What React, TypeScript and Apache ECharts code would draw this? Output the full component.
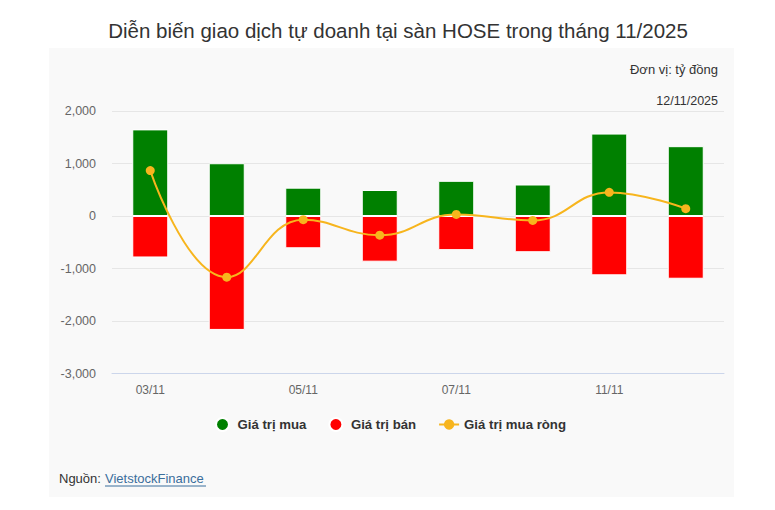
import React, { useEffect, useRef } from "react";
import * as echarts from "echarts";

const categories = ["03/11", "04/11", "05/11", "06/11", "07/11", "10/11", "11/11", "12/11"];
const buyValues = [1650, 1005, 540, 495, 670, 600, 1570, 1330];
const sellValues = [-790, -2170, -615, -870, -650, -690, -1130, -1195];
const netValues = [865, -1165, -70, -365, 30, -85, 450, 140];
const seriesNames = ["Giá trị mua", "Giá trị bán", "Giá trị mua ròng"];
const titleText = "Diễn biến giao dịch tự doanh tại sàn HOSE trong tháng 11/2025";
const unitText = "Đơn vị: tỷ đồng";
const dateText = "12/11/2025";
const sourceLabel = "Nguồn: ";
const sourceLink = "VietstockFinance";

const FONT = "Arial, 'Liberation Sans', Helvetica, sans-serif";

export default function App() {
  const ref = useRef<HTMLDivElement>(null);
  useEffect(() => {
    if (!ref.current) return;
    const chart = echarts.init(ref.current, undefined, { renderer: "svg" });
    chart.setOption({
      animation: false,
      textStyle: { fontFamily: FONT },
      graphic: [
        {
          type: "rect",
          z: -10,
          silent: true,
          shape: { x: 49, y: 48, width: 685, height: 449 },
          style: { fill: "#f9f9f9" },
        },
        {
          type: "text",
          x: 398,
          y: 30,
          style: {
            text: titleText,
            fill: "#333333",
            font: `20.5px ${FONT}`,
            textAlign: "center",
            textVerticalAlign: "middle",
          },
        },
        {
          type: "text",
          x: 718,
          y: 69,
          style: {
            text: unitText,
            fill: "#333333",
            font: `13px ${FONT}`,
            textAlign: "right",
            textVerticalAlign: "middle",
          },
        },
        {
          type: "text",
          x: 718,
          y: 101,
          style: {
            text: dateText,
            fill: "#333333",
            font: `12.5px ${FONT}`,
            textAlign: "right",
            textVerticalAlign: "middle",
          },
        },
        {
          type: "text",
          x: 59,
          y: 478,
          style: {
            text: sourceLabel,
            fill: "#333333",
            font: `13px ${FONT}`,
            textAlign: "left",
            textVerticalAlign: "middle",
          },
        },
        {
          type: "text",
          x: 105,
          y: 478,
          style: {
            text: sourceLink,
            fill: "#3b6e9c",
            font: `13px ${FONT}`,
            textAlign: "left",
            textVerticalAlign: "middle",
          },
        },
        {
          type: "line",
          shape: { x1: 105, y1: 486, x2: 206, y2: 486 },
          style: { stroke: "#3b6e9c", lineWidth: 1 },
        },
      ],
      legend: {
        left: 210,
        top: 412,
        itemWidth: 20,
        itemHeight: 13,
        itemGap: 22,
        textStyle: { fontSize: 13.2, fontWeight: "bold", color: "#333333", fontFamily: FONT },
        data: [
          { name: seriesNames[0], icon: "circle" },
          { name: seriesNames[1], icon: "circle" },
          { name: seriesNames[2] },
        ],
      },
      grid: { left: 112, right: 51, top: 111, bottom: 136.5, containLabel: false },
      xAxis: {
        type: "category",
        data: categories,
        axisLine: { onZero: false, lineStyle: { color: "#ccd6eb", width: 1 } },
        axisTick: { show: false },
        axisLabel: { interval: 1, color: "#666666", fontSize: 12, margin: 10 },
        splitLine: { show: false },
      },
      yAxis: {
        type: "value",
        min: -3000,
        max: 2000,
        interval: 1000,
        axisLine: { show: false },
        axisTick: { show: false },
        axisLabel: {
          color: "#666666",
          fontSize: 12.5,
          margin: 16,
          formatter: (v: number) => v.toLocaleString("en-US"),
        },
        splitLine: { lineStyle: { color: "#e6e6e6", width: 1 } },
      },
      series: [
        {
          name: seriesNames[0],
          type: "bar",
          stack: "total",
          data: buyValues,
          barWidth: 36,
          itemStyle: { color: "#008000", borderColor: "#ffffff", borderWidth: 1 },
        },
        {
          name: seriesNames[1],
          type: "bar",
          stack: "total",
          data: sellValues,
          barWidth: 36,
          itemStyle: { color: "#ff0000", borderColor: "#ffffff", borderWidth: 1 },
        },
        {
          name: seriesNames[2],
          type: "line",
          data: netValues,
          smooth: 0.45,
          symbol: "circle",
          symbolSize: 9,
          z: 5,
          lineStyle: { color: "#f7b51d", width: 2 },
          itemStyle: { color: "#f7b51d" },
        },
      ],
    });
    return () => chart.dispose();
  }, []);
  return (
    <div
      ref={ref}
      style={{ position: "fixed", left: 0, top: 0, width: 775, height: 510, background: "#ffffff" }}
    />
  );
}
